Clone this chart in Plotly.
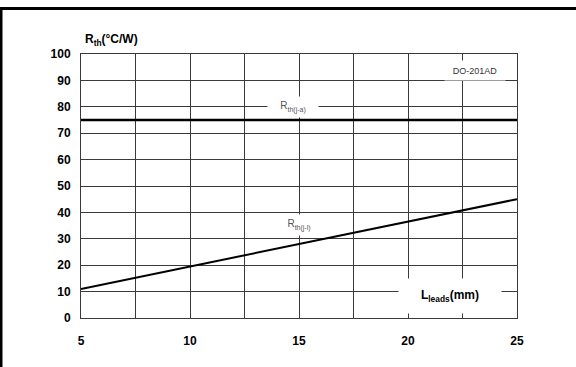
import plotly.graph_objects as go

# Data
lead_length = [5, 10, 15, 20, 25]
rth_jl = [11, 19.5, 28, 36.5, 45]
rth_ja = [75, 75, 75, 75, 75]
x_ticks = [5, 10, 15, 20, 25]
y_ticks = [0, 10, 20, 30, 40, 50, 60, 70, 80, 90, 100]

W, H = 576, 367
L, R, T, B = 81, 59, 54, 49
pw, ph = W - L - R, H - T - B

def px_x(p):
    return (p - L) / pw

def px_y(p):
    return (H - B - p) / ph

fig = go.Figure()
fig.add_trace(go.Scatter(x=lead_length, y=rth_ja, mode="lines",
                         line=dict(color="black", width=2.5), showlegend=False))
fig.add_trace(go.Scatter(x=lead_length, y=rth_jl, mode="lines",
                         line=dict(color="black", width=2), showlegend=False))

grid_col = "#3a3a3a"
tickfont = dict(family="Liberation Sans, Arial", size=12, color="black", weight="bold")

fig.update_xaxes(range=[5, 25], tickvals=x_ticks, ticktext=[str(v) for v in x_ticks],
                 showgrid=True, gridcolor=grid_col, gridwidth=1,
                 minor=dict(dtick=2.5, tick0=5, showgrid=True, gridcolor=grid_col, gridwidth=1),
                 showline=True, linecolor=grid_col, linewidth=1, mirror=True,
                 zeroline=False, ticks="", tickfont=tickfont, ticklabelstandoff=12)
fig.update_yaxes(range=[0, 100], tickvals=y_ticks, ticktext=[str(v) for v in y_ticks],
                 showgrid=True, gridcolor=grid_col, gridwidth=1,
                 showline=True, linecolor=grid_col, linewidth=1, mirror=True,
                 zeroline=False, ticks="", tickfont=tickfont, ticklabelstandoff=7)

bold = dict(family="Liberation Sans, Arial", size=12, color="black")
small = dict(family="Liberation Sans, Arial", size=10, color="#555")

annotations = [
    dict(xref="paper", yref="paper", x=px_x(83), y=px_y(40), xanchor="left", yanchor="middle",
         text="<b>R<sub>th</sub>(°C/W)</b>", showarrow=False, font=bold),
    dict(xref="x", yref="y", x=21.93, y=8.3, text="<b>L<sub>leads</sub>(mm)</b>",
         showarrow=False, font=bold, bgcolor="white", width=100, height=32),
    dict(xref="x", yref="y", x=23.07, y=93.6, text="DO-201AD", showarrow=False,
         font=dict(family="Liberation Sans, Arial", size=9, color="#333"),
         bgcolor="white", width=58, height=17),
    dict(xref="x", yref="y", x=14.72, y=79.8, text="R<sub>th(j-a)</sub>", showarrow=False,
         font=small, bgcolor="white", width=48, height=18),
    dict(xref="x", yref="y", x=15.0, y=35.2, text="R<sub>th(j-l)</sub>", showarrow=False,
         font=small, bgcolor="white", width=40, height=18),
]

shapes = [
    dict(type="rect", xref="paper", yref="paper", x0=px_x(0), x1=px_x(W), y0=px_y(7), y1=px_y(10),
         fillcolor="black", line=dict(width=0), layer="above"),
    dict(type="rect", xref="paper", yref="paper", x0=px_x(0), x1=px_x(2.5), y0=px_y(7), y1=px_y(H),
         fillcolor="black", line=dict(width=0), layer="above"),
]

fig.update_layout(width=W, height=H, margin=dict(l=L, r=R, t=T, b=B),
                  plot_bgcolor="white", paper_bgcolor="white",
                  annotations=annotations, shapes=shapes, showlegend=False)

fig.write_html("out.html", config={"displayModeBar": False},
               post_script="document.body.style.margin='0';")
